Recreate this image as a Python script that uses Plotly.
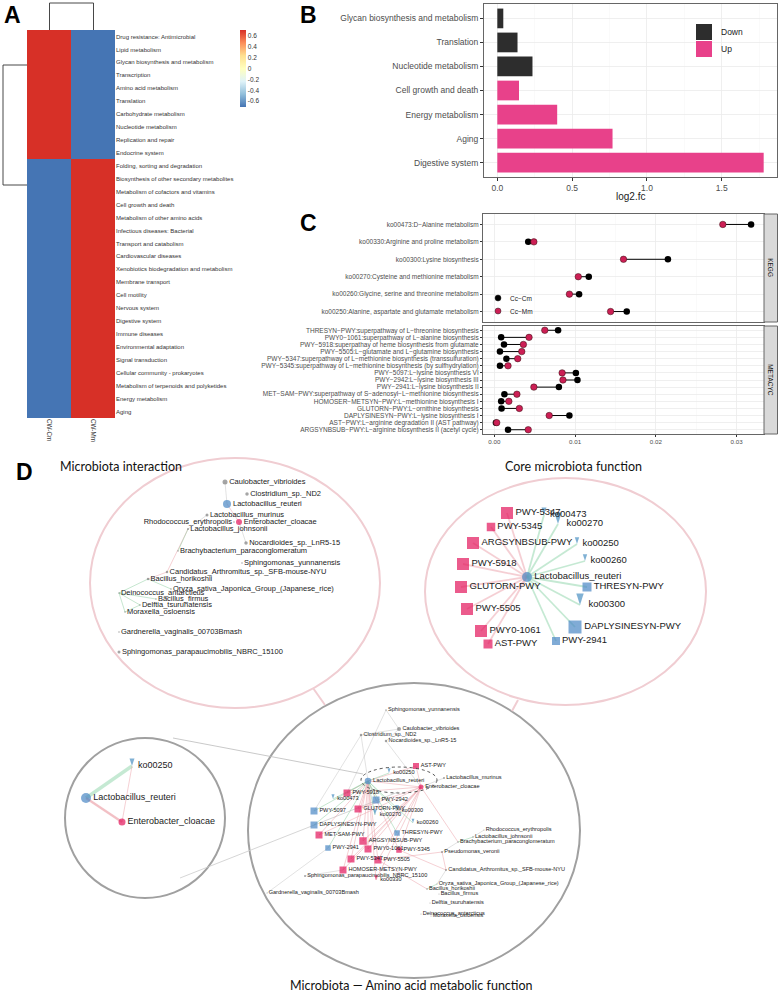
import plotly.graph_objects as go

W, H = 778, 992
FONT = "Liberation Sans, Arial, sans-serif"
TITLE_FONT = "Lato, Open Sans, sans-serif"

def px(x):
    return x / W

def py(y):
    return 1 - y / H

# ======================= DATA =======================
# ---- Panel A : heatmap ----
heat_rows = [
    "Drug resistance: Antimicrobial", "Lipid metabolism", "Glycan biosynthesis and metabolism",
    "Transcription", "Amino acid metabolism", "Translation", "Carbohydrate metabolism",
    "Nucleotide metabolism", "Replication and repair", "Endocrine system",
    "Folding, sorting and degradation", "Biosynthesis of other secondary metabolites",
    "Metabolism of cofactors and vitamins", "Cell growth and death",
    "Metabolism of other amino acids", "Infectious diseases: Bacterial",
    "Transport and catabolism", "Cardiovascular diseases",
    "Xenobiotics biodegradation and metabolism", "Membrane transport", "Cell motility",
    "Nervous system", "Digestive system", "Immune diseases", "Environmental adaptation",
    "Signal transduction", "Cellular community - prokaryotes",
    "Metabolism of terpenoids and polyketides", "Energy metabolism", "Aging",
]
heat_cols = ["CW-Cm", "CW-Mm"]
heat_cw_cm = [0.707, 0.707, 0.707, 0.707, 0.707, 0.707, 0.707, 0.707, 0.707, 0.707,
              -0.707, -0.707, -0.707, -0.707, -0.707, -0.707, -0.707, -0.707, -0.707, -0.707,
              -0.707, -0.707, -0.707, -0.707, -0.707, -0.707, -0.707, -0.707, -0.707, -0.707]
heat_cw_mm = [-0.707, -0.707, -0.707, -0.707, -0.707, -0.707, -0.707, -0.707, -0.707, -0.707,
              0.707, 0.707, 0.707, 0.707, 0.707, 0.707, 0.707, 0.707, 0.707, 0.707,
              0.707, 0.707, 0.707, 0.707, 0.707, 0.707, 0.707, 0.707, 0.707, 0.707]
cbar_ticks = [0.6, 0.4, 0.2, 0, -0.2, -0.4, -0.6]
cbar_labels = ["0.6", "0.4", "0.2", "0", "-0.2", "-0.4", "-0.6"]

# ---- Panel B : log2 fold change bars ----
b_terms = ["Glycan biosynthesis and metabolism", "Translation", "Nucleotide metabolism",
           "Cell growth and death", "Energy metabolism", "Aging", "Digestive system"]
b_log2fc = [0.04, 0.135, 0.235, 0.145, 0.40, 0.77, 1.78]
b_dir = ["Down", "Down", "Down", "Up", "Up", "Up", "Up"]
b_ticks = [0, 0.5, 1.0, 1.5]
b_ticklabels = ["0.0", "0.5", "1.0", "1.5"]

# ---- Panel C : dumbbells ----
kegg_terms = [
    "ko00473:D\u2212Alanine metabolism",
    "ko00330:Arginine and proline metabolism",
    "ko00300:Lysine biosynthesis",
    "ko00270:Cysteine and methionine metabolism",
    "ko00260:Glycine, serine and threonine metabolism",
    "ko00250:Alanine, aspartate and glutamate metabolism",
]
kegg_cc_cm = [0.0318, 0.0042, 0.0215, 0.0117, 0.0105, 0.0164]
kegg_cc_mm = [0.0283, 0.0049, 0.0160, 0.0104, 0.0093, 0.0144]
meta_terms = [
    "THRESYN\u2212PWY:superpathway of L\u2212threonine biosynthesis",
    "PWY0\u22121061:superpathway of L\u2212alanine biosynthesis",
    "PWY\u22125918:superpathay of heme biosynthesis from glutamate",
    "PWY\u22125505:L\u2212glutamate and L\u2212glutamine biosynthesis",
    "PWY\u22125347:superpathway of L\u2212methionine biosynthesis (transsulfuration)",
    "PWY\u22125345:superpathway of L\u2212methionine biosynthesis (by sulfhydrylation)",
    "PWY\u22125097:L\u2212lysine biosynthesis VI",
    "PWY\u22122942:L\u2212lysine biosynthesis III",
    "PWY\u22122941:L\u2212lysine biosynthesis II",
    "MET\u2212SAM\u2212PWY:superpathway of S\u2212adenosyl\u2212L\u2212methionine biosynthesis",
    "HOMOSER\u2212METSYN\u2212PWY:L\u2212methionine biosynthesis I",
    "GLUTORN\u2212PWY:L\u2212ornithine biosynthesis",
    "DAPLYSINESYN\u2212PWY:L\u2212lysine biosynthesis I",
    "AST\u2212PWY:L\u2212arginine degradation II (AST pathway)",
    "ARGSYNBSUB\u2212PWY:L\u2212arginine biosynthesis II (acetyl cycle)",
]
meta_cc_cm = [0.0079, 0.00085, 0.0012, 0.0007, 0.0015, 0.0007, 0.0101, 0.0103, 0.0080,
              0.00125, 0.00085, 0.0009, 0.0093, 0.0002, 0.0017]
meta_cc_mm = [0.00625, 0.0043, 0.0036, 0.0034, 0.0029, 0.0017, 0.0084, 0.0085, 0.0049,
              0.0028, 0.0018, 0.0031, 0.0068, 0.0003, 0.0042]
c_ticks = [0.0, 0.01, 0.02, 0.03]
c_ticklabels = ["0.00", "0.01", "0.02", "0.03"]

# ---- Panel D : networks (node names, groups, layout positions) ----
int_names = ["Caulobacter_vibrioides", "Clostridium_sp._ND2", "Lactobacillus_reuteri",
             "Lactobacillus_murinus", "Enterobacter_cloacae", "Rhodococcus_erythropolis",
             "Lactobacillus_johnsonii", "Nocardioides_sp._LnR5-15",
             "Brachybacterium_paraconglomeratum", "Sphingomonas_yunnanensis",
             "Candidatus_Arthromitus_sp._SFB-mouse-NYU", "Bacillus_horikoshii",
             "Oryza_sativa_Japonica_Group_(Japanese_rice)", "Deinococcus_antarcticus",
             "Bacillus_firmus", "Delftia_tsuruhatensis", "Moraxella_osloensis",
             "Gardnerella_vaginalis_00703Bmash", "Sphingomonas_parapaucimobilis_NBRC_15100"]
int_group = ["taxa", "taxa", "reuteri", "taxa", "cloacae", "taxa", "taxa", "taxa", "taxa",
             "taxa", "taxa", "taxa", "taxa", "taxa", "taxa", "taxa", "taxa", "taxa", "taxa"]
int_x = [225, 247, 227, 207, 239, 234, 188, 246, 178, 242, 167, 148, 171, 119, 156, 140, 125, 119, 119]
int_y = [482, 494, 504, 515, 522, 522, 529, 543, 551, 563, 572, 579, 589, 593, 599, 605, 612, 632, 652]
int_size = [5, 3.5, 8, 3, 6, 1.5, 2, 3.5, 1.5, 1.5, 2.5, 2.5, 1.5, 1.5, 1.5, 1.5, 1.5, 1.5, 3]
int_edges = [("Caulobacter_vibrioides", "Lactobacillus_reuteri", "grey"),
             ("Lactobacillus_reuteri", "Enterobacter_cloacae", "pink"),
             ("Enterobacter_cloacae", "Nocardioides_sp._LnR5-15", "grey"),
             ("Lactobacillus_murinus", "Lactobacillus_johnsonii", "grey"),
             ("Lactobacillus_johnsonii", "Brachybacterium_paraconglomeratum", "green"),
             ("Lactobacillus_johnsonii", "Candidatus_Arthromitus_sp._SFB-mouse-NYU", "pink"),
             ("Candidatus_Arthromitus_sp._SFB-mouse-NYU", "Bacillus_horikoshii", "pink"),
             ("Bacillus_horikoshii", "Oryza_sativa_Japonica_Group_(Japanese_rice)", "green"),
             ("Deinococcus_antarcticus", "Bacillus_firmus", "green"),
             ("Deinococcus_antarcticus", "Delftia_tsuruhatensis", "green"),
             ("Deinococcus_antarcticus", "Moraxella_osloensis", "green"),
             ("Delftia_tsuruhatensis", "Moraxella_osloensis", "green"),
             ("Bacillus_horikoshii", "Deinococcus_antarcticus", "green")]

core_names = ["Lactobacillus_reuteri", "PWY-5347", "ko00473", "PWY-5345", "ko00270",
              "ARGSYNBSUB-PWY", "ko00250", "PWY-5918", "ko00260", "GLUTORN-PWY",
              "THRESYN-PWY", "PWY-5505", "ko00300", "PWY0-1061", "DAPLYSINESYN-PWY",
              "PWY-2941", "AST-PWY"]
core_group = ["reuteri", "up_sq", "dn_v", "up_sq", "dn_v", "up_sq", "dn_v", "up_sq", "dn_v",
              "up_sq", "dn_sq", "up_sq", "dn_v", "up_sq", "dn_sq", "dn_sq", "up_sq"]
core_x = [527, 507, 544, 491, 558, 473, 577, 463, 585, 461, 587, 467, 580, 481, 575, 556, 488]
core_y = [577, 513, 515, 527, 524, 543, 544, 564, 561, 587, 587, 609, 605, 631, 627, 641, 644]
core_size = [10, 12, 8, 8.5, 12, 12, 7, 12, 7, 12, 9, 12, 12, 12, 13, 8, 9]

small_names = ["ko00250", "Lactobacillus_reuteri", "Enterobacter_cloacae"]
small_group = ["dn_v", "reuteri", "cloacae"]
small_x = [132, 86, 122]
small_y = [766, 798, 822]
small_size = [8, 10, 7]
small_edges = [("Lactobacillus_reuteri", "ko00250", "green_w"),
               ("ko00250", "Enterobacter_cloacae", "pink"),
               ("Lactobacillus_reuteri", "Enterobacter_cloacae", "pink_w")]

full_names = ["Sphingomonas_yunnanensis", "Caulobacter_vibrioides", "Clostridium_sp._ND2",
              "Nocardioides_sp._LnR5-15", "AST-PWY", "ko00250", "Lactobacillus_reuteri",
              "Lactobacillus_murinus", "Enterobacter_cloacae", "PWY-5918", "ko00473",
              "PWY-2942", "PWY-5097", "GLUTORN-PWY", "ko00300", "ko00270",
              "DAPLYSINESYN-PWY", "ko00260", "MET-SAM-PWY", "THRESYN-PWY",
              "Rhodococcus_erythropolis", "Lactobacillus_johnsonii",
              "Brachybacterium_paraconglomeratum", "ARGSYNBSUB-PWY", "PWY-2941", "PWY0-1061",
              "PWY-5345", "Pseudomonas_veronii", "PWY-5347", "PWY-5505", "HOMOSER-METSYN-PWY",
              "Candidatus_Arthromitus_sp._SFB-mouse-NYU",
              "Sphingomonas_parapaucimobilis_NBRC_15100", "ko00330",
              "Oryza_sativa_Japonica_Group_(Japanese_rice)", "Bacillus_horikoshii",
              "Bacillus_firmus", "Gardnerella_vaginalis_00703Bmash", "Delftia_tsuruhatensis",
              "Deinococcus_antarcticus", "Moraxella_osloensis"]
full_group = ["taxa", "taxa", "taxa", "taxa", "up_sq", "dn_v", "reuteri", "taxa", "cloacae",
              "up_sq", "dn_v", "dn_sq", "dn_sq", "up_sq", "dn_v", "dn_v", "dn_sq", "dn_v",
              "up_sq", "dn_sq", "taxa", "taxa", "taxa", "up_sq", "dn_sq", "up_sq", "up_sq",
              "taxa", "up_sq", "up_sq", "up_sq", "taxa", "taxa", "up_v", "taxa", "taxa",
              "taxa", "taxa", "taxa", "taxa", "taxa"]
full_x = [386, 399, 361, 386, 416, 389, 368, 444, 421, 347, 333, 376, 314, 358, 397, 375,
          314, 413, 319, 397, 484, 473, 458, 363, 328, 368, 399, 442, 351, 378, 343, 446,
          305, 376, 437, 427, 439, 267, 430, 421, 431]
full_y = [710, 729, 735, 741, 766, 773, 781, 778, 787, 793, 799, 800, 811, 809, 811, 815,
          825, 823, 835, 833, 830, 837, 842, 841, 848, 849, 850, 852, 859, 860, 870, 870,
          876, 880, 884, 889, 894, 893, 903, 914, 916]
full_size = [1.5, 4, 2.5, 2.5, 6, 5, 6.5, 2, 5, 7, 5, 7, 7, 7, 6, 6, 7, 4.5, 7, 5.5, 1, 1.5,
             1.5, 7.5, 5.5, 7, 5.5, 2, 7, 7, 7, 2, 2, 5, 1, 1.5, 1, 1, 1, 1, 1]
full_taxa_edges = [("Sphingomonas_yunnanensis", "Caulobacter_vibrioides", "grey"),
                   ("Caulobacter_vibrioides", "Clostridium_sp._ND2", "grey"),
                   ("Caulobacter_vibrioides", "Nocardioides_sp._LnR5-15", "grey"),
                   ("Clostridium_sp._ND2", "Lactobacillus_reuteri", "grey"),
                   ("Nocardioides_sp._LnR5-15", "Enterobacter_cloacae", "grey"),
                   ("Lactobacillus_murinus", "Enterobacter_cloacae", "grey"),
                   ("Lactobacillus_reuteri", "Enterobacter_cloacae", "pink"),
                   ("Rhodococcus_erythropolis", "Lactobacillus_johnsonii", "grey"),
                   ("Lactobacillus_johnsonii", "Brachybacterium_paraconglomeratum", "green"),
                   ("Brachybacterium_paraconglomeratum", "Enterobacter_cloacae", "pink"),
                   ("Brachybacterium_paraconglomeratum", "Pseudomonas_veronii", "grey"),
                   ("Pseudomonas_veronii", "Candidatus_Arthromitus_sp._SFB-mouse-NYU", "pink"),
                   ("Candidatus_Arthromitus_sp._SFB-mouse-NYU", "Oryza_sativa_Japonica_Group_(Japanese_rice)", "grey"),
                   ("Oryza_sativa_Japonica_Group_(Japanese_rice)", "Bacillus_horikoshii", "green"),
                   ("Bacillus_horikoshii", "PWY-5505", "pink"),
                   ("Candidatus_Arthromitus_sp._SFB-mouse-NYU", "PWY-5345", "pink"),
                   ("Pseudomonas_veronii", "PWY-5505", "pink"),
                   ("Sphingomonas_parapaucimobilis_NBRC_15100", "HOMOSER-METSYN-PWY", "grey"),
                   ("Gardnerella_vaginalis_00703Bmash", "PWY-2941", "grey"),
                   ("Sphingomonas_yunnanensis", "PWY-5918", "grey"),
                   ("Clostridium_sp._ND2", "PWY-5097", "grey")]

# ======================= FIGURE =======================
fig = go.Figure()

# ---- A: heatmap ----
fig.add_trace(go.Heatmap(
    z=[[a, b] for a, b in zip(heat_cw_cm, heat_cw_mm)],
    x=[0, 1], y=list(range(len(heat_rows))),
    colorscale=[[0, "#4575B4"], [1 / 6, "#91BFDB"], [2 / 6, "#E0F3F8"], [3 / 6, "#FFFFBF"],
                [4 / 6, "#FEE090"], [5 / 6, "#FC8D59"], [1, "#D73027"]],
    zmin=-0.707, zmax=0.707, xaxis="x", yaxis="y", hoverinfo="skip",
    colorbar=dict(x=px(240), xanchor="left", y=py(68.5), yanchor="middle",
                  len=77, lenmode="pixels", thickness=6, thicknessmode="pixels",
                  tickvals=cbar_ticks, ticktext=cbar_labels, ticks="",
                  tickfont=dict(size=6.5, color="#333", family=FONT),
                  outlinewidth=0, xpad=0, ypad=0),
))

# ---- B: bars ----
B_COL = {"Down": "#2D2D2D", "Up": "#E8418A"}
for d in ["Down", "Up"]:
    idx = [i for i, v in enumerate(b_dir) if v == d]
    fig.add_trace(go.Bar(x=[b_log2fc[i] for i in idx], y=idx, orientation="h", width=0.82,
                         marker=dict(color=B_COL[d], line=dict(width=0)),
                         xaxis="x2", yaxis="y2", showlegend=False, hoverinfo="skip"))

# ---- C: dumbbells ----
RED = "#CC1F55"
def dumbbell(cm, mm, xa, ya):
    ys = list(range(len(cm)))
    lx, ly = [], []
    for y, a, b in zip(ys, cm, mm):
        lx += [a, b, None]
        ly += [y, y, None]
    fig.add_trace(go.Scatter(x=lx, y=ly, mode="lines", line=dict(color="black", width=1),
                             xaxis=xa, yaxis=ya, showlegend=False, hoverinfo="skip"))
    fig.add_trace(go.Scatter(x=cm, y=ys, mode="markers",
                             marker=dict(color="black", size=6.5, line=dict(width=0)),
                             xaxis=xa, yaxis=ya, showlegend=False, hoverinfo="skip"))
    fig.add_trace(go.Scatter(x=mm, y=ys, mode="markers",
                             marker=dict(color=RED, size=6.5, line=dict(color="#331111", width=0.5)),
                             xaxis=xa, yaxis=ya, showlegend=False, hoverinfo="skip"))

dumbbell(kegg_cc_cm, kegg_cc_mm, "x3", "y3")
dumbbell(meta_cc_cm, meta_cc_mm, "x4", "y4")

# ---- D: networks ----
EDGE_COL = {"pink": ("rgba(232,150,160,0.45)", 1.0), "green": ("rgba(140,205,160,0.5)", 1.0),
            "grey": ("rgba(175,175,175,0.45)", 0.8), "pink_w": ("rgba(232,140,150,0.55)", 2.2),
            "green_w": ("rgba(150,215,175,0.55)", 3.5), "pink_m": ("rgba(235,160,170,0.5)", 1.8),
            "green_m": ("rgba(150,215,175,0.55)", 1.8)}
NODE_STYLE = {
    "taxa": ("#7F7F7F", "circle", 0),
    "reuteri": ("#4A87C4", "circle", 0),
    "cloacae": ("#E3165B", "circle", 0),
    "up_sq": ("#E3165B", "square", 0),
    "dn_sq": ("#4A87C4", "square", 0),
    "dn_v": ("#4A90C2", "arrow", 180),
    "up_v": ("#E3165B", "arrow", 180),
}

def draw_edges(edges, pos):
    by = {}
    for a, b, c in edges:
        by.setdefault(c, ([], []))
        (x0, y0), (x1, y1) = pos[a], pos[b]
        by[c][0].extend([x0, x1, None])
        by[c][1].extend([y0, y1, None])
    for c, (xs, ys) in by.items():
        col, w = EDGE_COL[c]
        fig.add_trace(go.Scatter(x=xs, y=ys, mode="lines", line=dict(color=col, width=w),
                                 xaxis="x5", yaxis="y5", showlegend=False, hoverinfo="skip"))

def draw_nodes(names, groups, xs, ys, sizes, fsize, textpos=None):
    cols = [NODE_STYLE[g][0] for g in groups]
    syms = [NODE_STYLE[g][1] for g in groups]
    angs = [NODE_STYLE[g][2] for g in groups]
    if textpos is None:
        textpos = ["middle right"] * len(names)
    fig.add_trace(go.Scatter(
        x=xs, y=ys, mode="markers+text", text=names, textposition=textpos,
        textfont=dict(size=fsize, color="#1a1a1a", family=FONT),
        marker=dict(color=cols, symbol=syms, angle=angs, size=sizes, line=dict(width=0)),
        xaxis="x5", yaxis="y5", showlegend=False, hoverinfo="skip", cliponaxis=False))

# interaction network
pos_int = {n: (x, y) for n, x, y in zip(int_names, int_x, int_y)}
draw_edges(int_edges, pos_int)
int_tp = ["middle left" if n == "Rhodococcus_erythropolis" else "middle right" for n in int_names]
draw_nodes(int_names, int_group, int_x, int_y, int_size, 7.5, int_tp)

# core function network
pos_core = {n: (x, y) for n, x, y in zip(core_names, core_x, core_y)}
core_edges = [("Lactobacillus_reuteri", n, "pink_m" if g.startswith("up") else "green_m")
              for n, g in zip(core_names, core_group) if g != "reuteri"]
draw_edges(core_edges, pos_core)
draw_nodes(core_names, core_group, core_x, core_y, core_size, 9.5)

# small network
pos_small = {n: (x, y) for n, x, y in zip(small_names, small_x, small_y)}
draw_edges(small_edges, pos_small)
draw_nodes(small_names, small_group, small_x, small_y, small_size, 9)

# full network
pos_full = {n: (x, y) for n, x, y in zip(full_names, full_x, full_y)}
full_edges = list(full_taxa_edges)
for n, g in zip(full_names, full_group):
    if g in ("up_sq", "up_v"):
        full_edges.append(("Lactobacillus_reuteri", n, "pink"))
        full_edges.append(("Enterobacter_cloacae", n, "pink"))
    elif g in ("dn_sq", "dn_v"):
        full_edges.append(("Lactobacillus_reuteri", n, "green"))
draw_edges(full_edges, pos_full)
draw_nodes(full_names, full_group, full_x, full_y, full_size, 5.6)

# ======================= LAYOUT =======================
AX_GRID = "#EBEBEB"
AX_MINOR = "#F5F5F5"
BORDER = "#666666"
TICKFONT = dict(size=8.5, color="#4D4D4D", family=FONT)

shapes = []
annotations = []

# dendrograms (A)
for x0, y0, x1, y1 in [(49.5, 3, 93.5, 3), (49.5, 3, 49.5, 30), (93.5, 3, 93.5, 30),
                       (3, 65, 3, 185), (3, 65, 27, 65), (3, 185, 27, 185)]:
    shapes.append(dict(type="line", xref="x5", yref="y5", x0=x0, y0=y0, x1=x1, y1=y1,
                       line=dict(color="#333", width=0.9)))

# B legend
for (y0, y1, c, t) in [(24, 40, B_COL["Down"], "Down"), (41, 57, B_COL["Up"], "Up")]:
    shapes.append(dict(type="rect", xref="x5", yref="y5", x0=696, x1=712, y0=y0, y1=y1,
                       fillcolor=c, line=dict(width=0)))
    annotations.append(dict(x=719, y=(y0 + y1) / 2, xref="x5", yref="y5", text=t,
                            showarrow=False, xanchor="left", yanchor="middle",
                            font=dict(size=8.5, color="#222", family=FONT)))
annotations.append(dict(x=630, y=196, xref="x5", yref="y5", text="log2.fc", showarrow=False,
                        font=dict(size=10, color="#222", family=FONT)))

# C legend
for (yy, c, t) in [(298, "black", "Cc\u2212Cm"), (311, RED, "Cc\u2212Mm")]:
    shapes.append(dict(type="circle", xref="x5", yref="y5", x0=495, x1=501, y0=yy - 3, y1=yy + 3,
                       fillcolor=c, line=dict(width=0.5, color="#222")))
    annotations.append(dict(x=508, y=yy, xref="x5", yref="y5", text=t, showarrow=False,
                            xanchor="left", yanchor="middle",
                            font=dict(size=6.5, color="#222", family=FONT)))
# C strips
for (y0, y1, t) in [(214, 322, "KEGG"), (326, 434, "METACYC")]:
    shapes.append(dict(type="rect", xref="x5", yref="y5", x0=764, x1=777.5, y0=y0, y1=y1,
                       fillcolor="#D9D9D9", line=dict(color=BORDER, width=1)))
    annotations.append(dict(x=770.8, y=(y0 + y1) / 2, xref="x5", yref="y5", text=t,
                            showarrow=False, textangle=90,
                            font=dict(size=6.5, color="#1a1a1a", family=FONT)))

# D circles and connectors
PINK_RING = "#F0CDD2"
GREY_RING = "#A0A0A0"
shapes += [
    dict(type="circle", xref="x5", yref="y5", x0=90, x1=380, y0=458, y1=708,
         line=dict(color=PINK_RING, width=2), layer="below"),
    dict(type="circle", xref="x5", yref="y5", x0=425, x1=706, y0=478, y1=705,
         line=dict(color=PINK_RING, width=2), layer="below"),
    dict(type="circle", xref="x5", yref="y5", x0=65, x1=225, y0=738, y1=898,
         line=dict(color=GREY_RING, width=2), layer="below"),
    dict(type="circle", xref="x5", yref="y5", x0=248, x1=580, y0=683, y1=978,
         line=dict(color=GREY_RING, width=2), layer="below"),
    dict(type="line", xref="x5", yref="y5", x0=313, y0=688, x1=325, y1=705,
         line=dict(color=PINK_RING, width=2)),
    dict(type="line", xref="x5", yref="y5", x0=518, y0=700, x1=512, y1=711,
         line=dict(color=PINK_RING, width=2)),
    dict(type="line", xref="x5", yref="y5", x0=173, y0=738, x1=363, y1=774,
         line=dict(color="#BBBBBB", width=0.8), layer="below"),
    dict(type="line", xref="x5", yref="y5", x0=180, y0=878, x1=398, y1=792,
         line=dict(color="#CCCCCC", width=0.8), layer="below"),
    dict(type="circle", xref="x5", yref="y5", x0=361, x1=437, y0=767, y1=793,
         line=dict(color="#555", width=1, dash="dot")),
]

# titles & panel letters
for (x, y, t) in [(121, 466, "Microbiota interaction"), (573, 466, "Core microbiota function"),
                  (411, 985, "Microbiota \u2014 Amino acid metabolic function")]:
    annotations.append(dict(x=x, y=y, xref="x5", yref="y5", text=t, showarrow=False,
                            font=dict(size=12.5, color="#111", family=TITLE_FONT)))
for (x, y, t) in [(12, 0.5, "A"), (308, 0.5, "B"), (308, 209, "C"), (24, 458, "D")]:
    annotations.append(dict(x=x, y=y, xref="x5", yref="y5", text="<b>%s</b>" % t,
                            showarrow=False, yanchor="top", borderpad=0,
                            font=dict(size=23, color="#000", family=FONT)))

def c_xaxis(dom_y_anchor, show_labels):
    return dict(domain=[px(483), px(764)], range=[-0.0014, 0.0334], anchor=dom_y_anchor,
                tickvals=c_ticks, ticktext=c_ticklabels, showticklabels=show_labels,
                ticks="outside" if show_labels else "", ticklen=2, tickcolor="#333",
                tickfont=dict(size=6.2, color="#4D4D4D", family=FONT),
                showgrid=True, gridcolor=AX_GRID, gridwidth=0.8,
                minor=dict(tickvals=[0.005, 0.015, 0.025], showgrid=True, gridcolor=AX_MINOR,
                           gridwidth=0.5, ticks=""),
                showline=True, mirror=True, linecolor=BORDER, linewidth=1,
                zeroline=False, automargin=False, fixedrange=True)

def c_yaxis(terms, top, bottom, anchor):
    n = len(terms)
    return dict(domain=[py(bottom), py(top)], range=[n - 1 + 0.6, -0.6], anchor=anchor,
                tickvals=list(range(n)), ticktext=terms, ticks="outside", ticklen=2,
                tickcolor="#333", tickfont=dict(size=6.5, color="#4D4D4D", family=FONT),
                showgrid=True, gridcolor=AX_GRID, gridwidth=0.8,
                showline=True, mirror=True, linecolor=BORDER, linewidth=1,
                zeroline=False, automargin=False, fixedrange=True)

fig.update_layout(
    template="none",
    width=W, height=H,
    margin=dict(l=0, r=0, t=0, b=0, pad=0),
    paper_bgcolor="white",
    plot_bgcolor="rgba(0,0,0,0)",
    font=dict(family=FONT, color="#222"),
    barmode="overlay",
    showlegend=False,
    # A
    xaxis=dict(domain=[px(27), px(115)], range=[-0.5, 1.5], anchor="y",
               tickvals=[0, 1], ticktext=heat_cols, tickangle=90, ticks="",
               tickfont=dict(size=6.3, color="#333", family=FONT),
               showgrid=False, zeroline=False, showline=False, automargin=False),
    yaxis=dict(domain=[py(418), py(30)], range=[len(heat_rows) - 0.5, -0.5], anchor="x",
               side="right", tickvals=list(range(len(heat_rows))), ticktext=heat_rows,
               ticks="", tickfont=dict(size=6.0, color="#333", family=FONT),
               showgrid=False, zeroline=False, showline=False, automargin=False),
    # B
    xaxis2=dict(domain=[px(484), px(777)], range=[-0.089, 1.869], anchor="y2",
                tickvals=b_ticks, ticktext=b_ticklabels, ticks="outside", ticklen=3,
                tickcolor="#333", tickfont=TICKFONT,
                showgrid=True, gridcolor=AX_GRID, gridwidth=0.8,
                minor=dict(tickvals=[0.25, 0.75, 1.25, 1.75], showgrid=True,
                           gridcolor=AX_MINOR, gridwidth=0.5, ticks=""),
                showline=True, mirror=True, linecolor=BORDER, linewidth=1,
                zeroline=False, automargin=False),
    yaxis2=dict(domain=[py(177), py(4)], range=[6.6, -0.6], anchor="x2",
                tickvals=list(range(len(b_terms))), ticktext=b_terms, ticks="outside",
                ticklen=3, tickcolor="#333", tickfont=TICKFONT,
                showgrid=True, gridcolor=AX_GRID, gridwidth=0.8,
                showline=True, mirror=True, linecolor=BORDER, linewidth=1,
                zeroline=False, automargin=False),
    # C
    xaxis3=c_xaxis("y3", False),
    yaxis3=c_yaxis(kegg_terms, 214, 322, "x3"),
    xaxis4=c_xaxis("y4", True),
    yaxis4=c_yaxis(meta_terms, 326, 434, "x4"),
    # overlay (pixel coordinates) for D and decorations
    xaxis5=dict(domain=[0, 1], range=[0, W], anchor="y5", visible=False, fixedrange=True),
    yaxis5=dict(domain=[0, 1], range=[H, 0], anchor="x5", visible=False, fixedrange=True),
    shapes=shapes,
    annotations=annotations,
)

fig.write_html("out.html", config={"displayModeBar": False, "staticPlot": True},
               post_script="document.body.style.margin='0';document.body.style.overflow='hidden';")
